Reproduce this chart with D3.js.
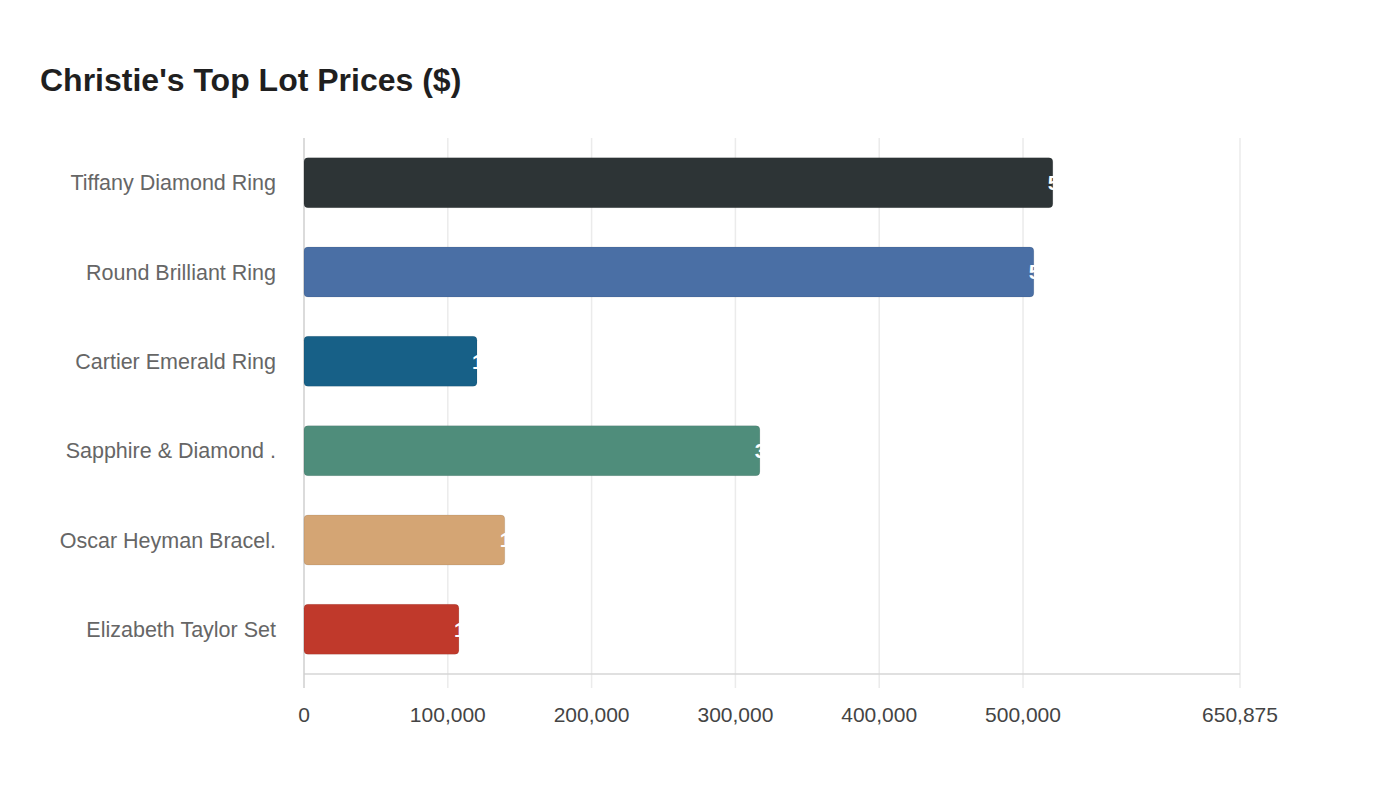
<!DOCTYPE html>
<html>
<head>
<meta charset="utf-8">
<script src="https://cdn.jsdelivr.net/npm/d3@7"></script>
<style>
  body { margin: 0; background: #fff; font-family: "Liberation Sans", Arial, sans-serif; }
</style>
</head>
<body>
<svg id="chart" width="1400" height="800"></svg>
<script>
// Lot names (already truncated as shown in the chart)
const LOTS = [
  'Tiffany Diamond Ring',
  'Round Brilliant Ring',
  'Cartier Emerald Ring',
  'Sapphire & Diamond .',
  'Oscar Heyman Bracel.',
  'Elizabeth Taylor Set'
];
// Prices in dollars
const PRICES = [520700, 507500, 120300, 317000, 139600, 107700];
const COLORS = ['#2d3436', '#4a6fa5', '#176087', '#4f8d7b', '#d4a574', '#c0392b'];
const TICKS = [0, 100000, 200000, 300000, 400000, 500000, 650875];
const XMAX = 650875;

const svg = d3.select('#chart');
const M = { left: 304, right: 1240, top: 138, bottom: 674 };

svg.append('text')
  .attr('x', 40)
  .attr('y', 91)
  .attr('font-size', 32)
  .attr('font-weight', 'bold')
  .attr('fill', '#1f1f1f')
  .text("Christie's Top Lot Prices ($)");

let xscale = d3.scaleLinear().domain([0, XMAX]).range([M.left, M.right]);
let yscale = d3.scaleBand().domain(LOTS).range([M.top, M.bottom])
  .paddingInner(0.44)
  .paddingOuter(0.22);

// vertical grid lines, running a bit past the axis line
svg.append('g').selectAll('line').data(TICKS.slice(1))
  .enter()
  .append('line')
  .attr('x1', d => xscale(d))
  .attr('x2', d => xscale(d))
  .attr('y1', M.top)
  .attr('y2', M.bottom + 14)
  .attr('stroke', '#ebebeb')
  .attr('stroke-width', 1.5);

// bottom axis line
svg.append('line')
  .attr('x1', M.left).attr('x2', M.right)
  .attr('y1', M.bottom).attr('y2', M.bottom)
  .attr('stroke', '#d6d6d6')
  .attr('stroke-width', 1.5);

// left axis line
svg.append('line')
  .attr('x1', M.left).attr('x2', M.left)
  .attr('y1', M.top).attr('y2', M.bottom + 14)
  .attr('stroke', '#cfcfcf')
  .attr('stroke-width', 1.5);

svg.append('g').selectAll('text').data(TICKS)
  .enter()
  .append('text')
  .attr('x', d => xscale(d))
  .attr('y', 722)
  .attr('text-anchor', 'middle')
  .attr('font-size', 21)
  .attr('fill', '#444')
  .text(d3.format(','));

svg.append('g').selectAll('text').data(LOTS)
  .enter()
  .append('text')
  .attr('x', 276)
  .attr('y', d => yscale(d) + yscale.bandwidth() / 2)
  .attr('dy', '0.35em')
  .attr('text-anchor', 'end')
  .attr('font-size', 21.5)
  .attr('fill', '#666')
  .text(d => d);

let rows = LOTS.map((name, i) => ({ name: name, price: PRICES[i], color: COLORS[i] }));

svg.append('g').selectAll('rect').data(rows)
  .enter()
  .append('rect')
  .attr('x', M.left)
  .attr('y', d => yscale(d.name))
  .attr('width', d => xscale(d.price) - M.left)
  .attr('height', yscale.bandwidth())
  .attr('rx', 4)
  .attr('fill', d => d.color)
  .attr('stroke', 'rgba(0,0,0,0.08)')
  .attr('stroke-width', 1);

// value labels sit at the bar end in white, so most of them vanish on the background
svg.append('g').selectAll('text').data(rows)
  .enter()
  .append('text')
  .attr('x', d => xscale(d.price) - 5)
  .attr('y', d => yscale(d.name) + yscale.bandwidth() / 2)
  .attr('dy', '0.35em')
  .attr('font-size', 21)
  .attr('font-weight', 'bold')
  .attr('fill', '#fff')
  .text(d => d3.format(',')(d.price));
</script>
</body>
</html>
